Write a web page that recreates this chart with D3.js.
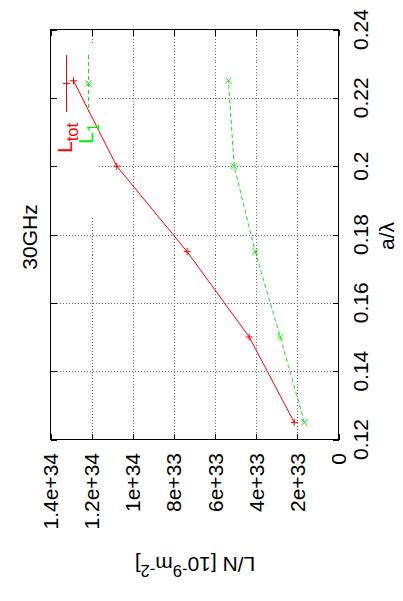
<!DOCTYPE html>
<html><head><meta charset="utf-8">
<script src="https://cdn.jsdelivr.net/npm/d3@7/dist/d3.min.js"></script>
<style>
body{margin:0;background:#fff}
svg{display:block}
text{font-family:"Liberation Sans",Arial,Helvetica,sans-serif;fill:#000}
</style>
</head><body>
<svg id="chart" width="403" height="601"></svg>
<script>
// ---- data ----
const aValues = [0.125, 0.15, 0.175, 0.2, 0.225];           // a/lambda
const lTotValues = [2.15e33, 4.34e33, 7.36e33, 10.78e33, 12.88e33];
const l1Values = [1.66e33, 2.83e33, 4.05e33, 5.07e33, 5.35e33];
const aTicks = [0.12, 0.14, 0.16, 0.18, 0.2, 0.22, 0.24];
const aTickLabels = ["0.12", "0.14", "0.16", "0.18", "0.2", "0.22", "0.24"];
const lTicks = [0, 2e33, 4e33, 6e33, 8e33, 1e34, 1.2e34, 1.4e34];
const lTickLabels = ["0", "2e+33", "4e+33", "6e+33", "8e+33", "1e+34", "1.2e+34", "1.4e+34"];
const seriesSubs = ["tot", "1"];
const titleText = "30GHz";

// ---- layout (chart is drawn rotated 90° CCW) ----
const FL = 50.5, FR = 338.5, FT = 29.5, FB = 439.5;
const FS = 21, SUB = 16.5;
const svg = d3.select("#chart");

const aScale = d3.scaleLinear().domain([0.12, 0.24]).range([FB, FT]);
const lScale = d3.scaleLinear().domain([0, 1.4e34]).range([FR, FL]);

// grid
const grid = svg.append("g").attr("stroke", "#666").attr("stroke-width", 1)
  .attr("stroke-dasharray", "1,2").attr("shape-rendering", "crispEdges");
grid.selectAll("line.ga").data(aTicks.slice(1, -1)).join("line")
  .attr("x1", FL).attr("x2", FR).attr("y1", d => Math.round(aScale(d)) + 0.5).attr("y2", d => Math.round(aScale(d)) + 0.5);
grid.selectAll("line.gl").data(lTicks.slice(1, -1)).join("line")
  .attr("y1", FT).attr("y2", FB).attr("x1", d => Math.round(lScale(d)) + 0.5).attr("x2", d => Math.round(lScale(d)) + 0.5);

// legend box clears the grid
svg.append("rect").attr("x", FL + 0.5).attr("y", 43).attr("width", 48).attr("height", 173).attr("fill", "#fff");

// ticks (inward, mirrored)
const tk = svg.append("g").attr("stroke", "#000").attr("stroke-width", 1).attr("shape-rendering", "crispEdges");
aTicks.forEach(d => {
  const y = Math.round(aScale(d)) + 0.5;
  tk.append("line").attr("x1", FL).attr("x2", FL + 6).attr("y1", y).attr("y2", y);
  tk.append("line").attr("x1", FR).attr("x2", FR - 6).attr("y1", y).attr("y2", y);
});
lTicks.forEach(d => {
  const x = Math.round(lScale(d)) + 0.5;
  tk.append("line").attr("y1", FB).attr("y2", FB - 6).attr("x1", x).attr("x2", x);
  tk.append("line").attr("y1", FT).attr("y2", FT + 6).attr("x1", x).attr("x2", x);
});

// frame
svg.append("rect").attr("x", FL).attr("y", FT).attr("width", FR - FL).attr("height", FB - FT)
  .attr("fill", "none").attr("stroke", "#000").attr("stroke-width", 1).attr("shape-rendering", "crispEdges");

// tick labels: a/lambda (right side)
svg.append("g").selectAll("text").data(aTicks).join("text")
  .attr("transform", d => `translate(368,${aScale(d)}) rotate(-90)`)
  .attr("text-anchor", "middle").attr("font-size", FS)
  .text((d, i) => aTickLabels[i]);

// tick labels: L/N (bottom)
svg.append("g").selectAll("text").data(lTicks).join("text")
  .attr("transform", d => `translate(${lScale(d) + 7.5},453) rotate(-90)`)
  .attr("text-anchor", "end").attr("font-size", FS)
  .text((d, i) => lTickLabels[i]);

// axis titles
svg.append("text").attr("transform", "translate(394,236) rotate(-90)")
  .attr("text-anchor", "middle").attr("font-size", FS).text("a/λ");

const yl = svg.append("text").attr("transform", "translate(195,557) rotate(180)")
  .attr("text-anchor", "middle").attr("font-size", FS);
yl.append("tspan").text("L/N [10");
yl.append("tspan").attr("dy", -8).attr("font-size", SUB).text("-9");
yl.append("tspan").attr("dy", 8).text("m");
yl.append("tspan").attr("dy", -8).attr("font-size", SUB).text("-2");
yl.append("tspan").attr("dy", 8).text("]");

// title
svg.append("text").attr("transform", "translate(37,237) rotate(-90)")
  .attr("text-anchor", "middle").attr("font-size", FS).text(titleText);

// data
const idx = d3.range(aValues.length);
const series = [
  {vals: lTotValues, color: "#ff0000", dash: null, marker: "plus"},
  {vals: l1Values, color: "#00ee00", dash: "4,3", marker: "cross"}
];
const markerPath = {plus: "M-3.5,0H3.5M0,-3.5V3.5", cross: "M-3,-3L3,3M-3,3L3,-3"};

series.forEach(s => {
  const line = d3.line().x(i => lScale(s.vals[i])).y(i => aScale(aValues[i]));
  svg.append("path").attr("d", line(idx)).attr("fill", "none").attr("stroke", s.color)
    .attr("stroke-width", 1).attr("stroke-dasharray", s.dash);
  svg.append("g").selectAll("path").data(idx).join("path")
    .attr("transform", i => `translate(${lScale(s.vals[i])},${aScale(aValues[i])})`)
    .attr("d", markerPath[s.marker]).attr("stroke", s.color).attr("stroke-width", 1).attr("fill", "none");
});

// legend
const legX = [66.5, 88.5];
const legBase = [72, 93];
series.forEach((s, k) => {
  svg.append("line").attr("x1", legX[k]).attr("x2", legX[k]).attr("y1", 55).attr("y2", 112)
    .attr("stroke", s.color).attr("stroke-width", 1).attr("stroke-dasharray", s.dash);
  svg.append("path").attr("transform", `translate(${legX[k]},83.5)`).attr("d", markerPath[s.marker])
    .attr("stroke", s.color).attr("stroke-width", 1).attr("fill", "none");
  const t = svg.append("text").attr("transform", `translate(${legBase[k]},123) rotate(-90)`)
    .attr("text-anchor", "end").attr("font-size", FS).style("fill", s.color);
  t.append("tspan").text("L");
  t.append("tspan").attr("dy", 6).attr("font-size", SUB).text(seriesSubs[k]);
});
</script>
</body></html>
